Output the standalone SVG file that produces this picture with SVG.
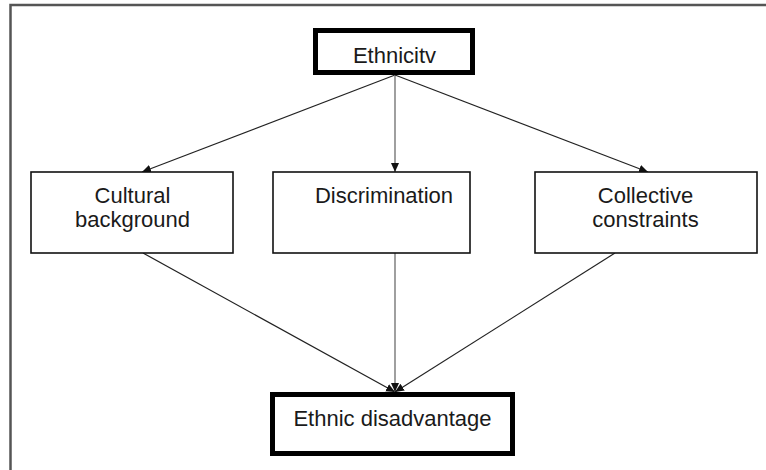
<svg xmlns="http://www.w3.org/2000/svg" width="766" height="470" viewBox="0 0 766 470">
  <defs>
    <marker id="arrow" markerWidth="10" markerHeight="10" refX="9" refY="5" orient="auto" markerUnits="userSpaceOnUse">
      <path d="M0,1 L9,5 L0,9 Z" fill="#111"/>
    </marker>
    <style>
      .box { fill: #fff; stroke: #111; stroke-width: 1.6; }
      .key { fill: #fff; stroke: #000; stroke-width: 5; }
      .label { font-family: "Liberation Sans", Arial, sans-serif; font-size: 22px; fill: #1a1a1a; text-anchor: middle; }
      .edge { stroke: #222; stroke-width: 1.2; fill: none; marker-end: url(#arrow); }
      .edge-v { stroke: #777; stroke-width: 1.4; fill: none; marker-end: url(#arrow); }
    </style>
  </defs>

  <rect width="766" height="470" fill="#fff"/>
  <!-- page frame -->
  <rect x="10.5" y="5" width="780" height="490" fill="none" stroke="#555" stroke-width="2.5"/>

  <g id="connectors">
    <line class="edge" x1="395" y1="75" x2="142" y2="172"/>
    <line class="edge-v" x1="395" y1="75" x2="395" y2="172"/>
    <line class="edge" x1="395" y1="75" x2="648" y2="172"/>
    <line class="edge" x1="143" y1="253" x2="395" y2="392"/>
    <line class="edge-v" x1="395" y1="253" x2="395" y2="392"/>
    <line class="edge" x1="615" y1="253" x2="395" y2="392"/>
  </g>

  <g id="ethnicity">
    <rect class="key" x="315.5" y="30.5" width="157" height="42"/>
    <text class="label" x="394.5" y="63">Ethnicitv</text>
  </g>

  <g id="cultural-background">
    <rect class="box" x="31" y="172" width="202" height="81"/>
    <text class="label" x="132.5" y="203">Cultural</text>
    <text class="label" x="132.5" y="227">background</text>
  </g>

  <g id="discrimination">
    <rect class="box" x="273" y="172" width="197" height="81"/>
    <text class="label" x="384" y="203">Discrimination</text>
  </g>

  <g id="collective-constraints">
    <rect class="box" x="535" y="172" width="222" height="81"/>
    <text class="label" x="645.5" y="203">Collective</text>
    <text class="label" x="645.5" y="227">constraints</text>
  </g>

  <g id="ethnic-disadvantage">
    <rect class="key" x="272.5" y="394.5" width="240" height="59"/>
    <text class="label" x="392.5" y="426">Ethnic disadvantage</text>
  </g>
</svg>
